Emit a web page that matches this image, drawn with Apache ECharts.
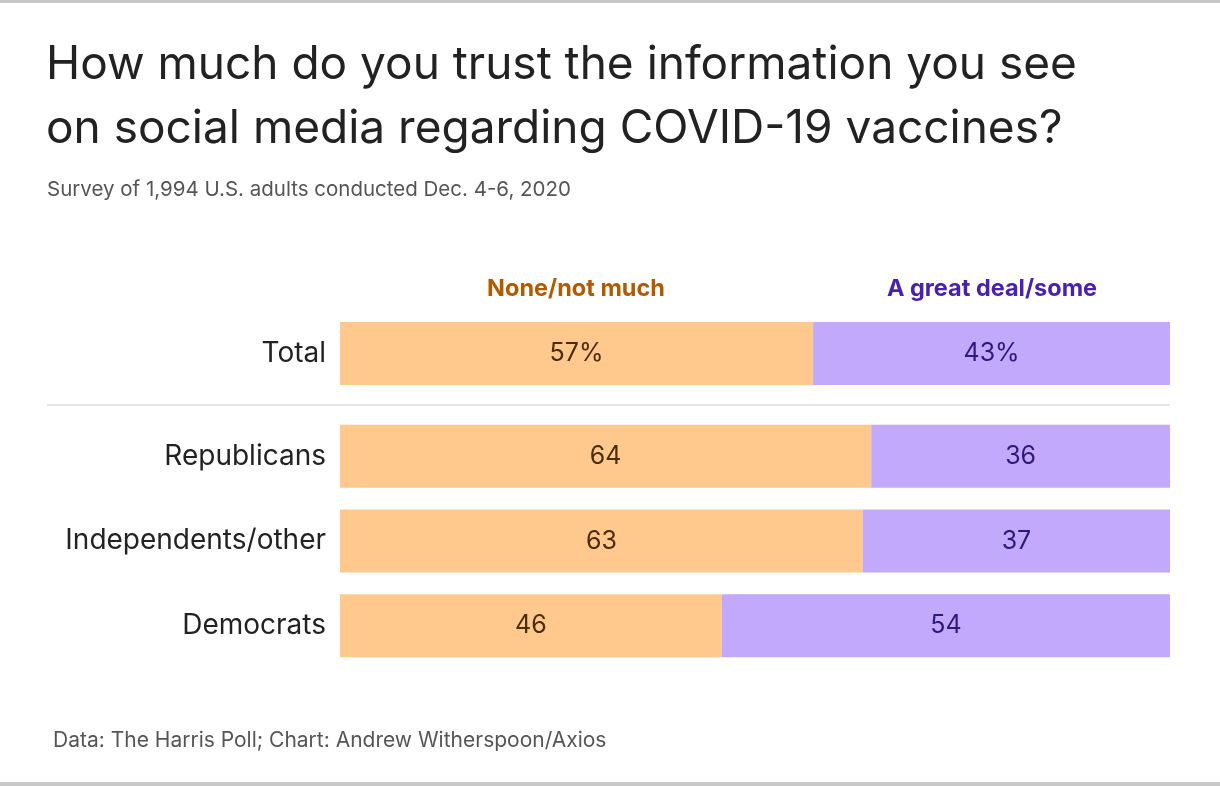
<!DOCTYPE html>
<html><head><meta charset="utf-8">
<script src="https://cdn.jsdelivr.net/npm/echarts@6/dist/echarts.min.js"></script>
<style>html,body{margin:0;padding:0;background:#fff}#c{width:1220px;height:786px}</style>
</head><body><div id="c"></div>
<script>
const totalCat = ['Total'];
const totalNone = [57];
const totalGreat = [43];
const partyCats = ['Republicans', 'Independents/other', 'Democrats'];
const partyNone = [64, 63, 46];
const partyGreat = [36, 37, 54];

const ORANGE = '#ffc88c', PURPLE = '#c2a9fc';
const F = '"Inter", "Noto Sans", sans-serif';
const chart = echarts.init(document.getElementById('c'));
const axisCommon = (cats) => ({type:'category', data:cats, inverse:true, axisLine:{show:false}, axisTick:{show:false},
  axisLabel:{color:'#222', fontSize:28, fontFamily:F, margin:14}});
const valAx = {type:'value', min:0, max:100, show:false};
function bars(xi, none, great, pct){
  return [
    {type:'bar', stack:'s'+xi, xAxisIndex:xi, yAxisIndex:xi, data:none, barWidth:63,
     itemStyle:{color:ORANGE},
     label:{show:true, position:'inside', color:'#4a2c0a', fontSize:25, fontFamily:F, formatter:p=>p.value+(pct?'%':'')}},
    {type:'bar', stack:'s'+xi, xAxisIndex:xi, yAxisIndex:xi, data:great, barWidth:63,
     itemStyle:{color:PURPLE},
     label:{show:true, position:'inside', color:'#2d1880', fontSize:25, fontFamily:F, formatter:p=>p.value+(pct?'%':'')}}
  ];
}
chart.setOption({
  animation:false,
  grid:[{left:340, width:830, top:322, height:63},
        {left:340, width:830, top:414, height:254}],
  xAxis:[Object.assign({gridIndex:0}, valAx), Object.assign({gridIndex:1}, valAx)],
  yAxis:[Object.assign({gridIndex:0}, axisCommon(totalCat)), Object.assign({gridIndex:1}, axisCommon(partyCats))],
  series:[...bars(0,totalNone,totalGreat,true), ...bars(1,partyNone,partyGreat,false)],
  graphic:[
    {type:'rect', shape:{x:0,y:0,width:1220,height:3}, style:{fill:'#c8c8c8'}},
    {type:'rect', shape:{x:0,y:782,width:1220,height:4}, style:{fill:'#c8c8c8'}},
    {type:'text', left:46, top:33, style:{text:'How much do you trust the information you see\non social media regarding COVID-19 vaccines?', fontSize:46, lineHeight:64, fill:'#222', fontFamily:F}},
    {type:'text', left:47, top:179, style:{text:'Survey of 1,994 U.S. adults conducted Dec. 4-6, 2020', fontSize:20.5, fill:'#555', fontFamily:F}},
    {type:'text', x:576, y:289, style:{text:'None/not much', fontSize:23.5, fontWeight:'bold', fill:'#b25a00', fontFamily:F, align:'center', verticalAlign:'middle'}},
    {type:'text', x:992, y:289, style:{text:'A great deal/some', fontSize:23.5, fontWeight:'bold', fill:'#4a20b0', fontFamily:F, align:'center', verticalAlign:'middle'}},
    {type:'line', shape:{x1:47,y1:405,x2:1170,y2:405}, style:{stroke:'#ddd', lineWidth:1.5}},
    {type:'text', left:53, top:730, style:{text:'Data: The Harris Poll; Chart: Andrew Witherspoon/Axios', fontSize:21, fill:'#555', fontFamily:F}}
  ]
});
</script></body></html>
